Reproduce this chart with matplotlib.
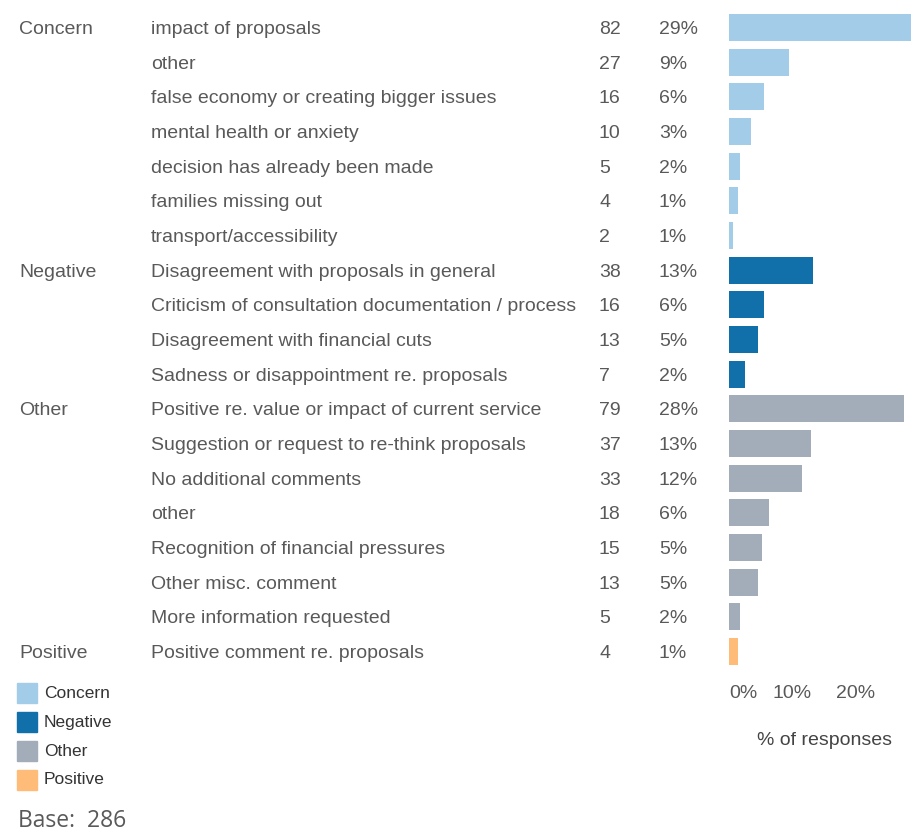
import matplotlib
matplotlib.use("Agg")
from matplotlib import pyplot as plt
from matplotlib.transforms import blended_transform_factory
from matplotlib.patches import Rectangle

# data
groups = ["Concern"] * 7 + ["Negative"] * 4 + ["Other"] * 7 + ["Positive"]
labels = [
    "impact of proposals", "other", "false economy or creating bigger issues",
    "mental health or anxiety", "decision has already been made",
    "families missing out", "transport/accessibility",
    "Disagreement with proposals in general",
    "Criticism of consultation documentation / process",
    "Disagreement with financial cuts", "Sadness or disappointment re. proposals",
    "Positive re. value or impact of current service",
    "Suggestion or request to re-think proposals", "No additional comments",
    "other", "Recognition of financial pressures", "Other misc. comment",
    "More information requested", "Positive comment re. proposals",
]
counts = [82, 27, 16, 10, 5, 4, 2, 38, 16, 13, 7, 79, 37, 33, 18, 15, 13, 5, 4]
pct_labels = ["29%", "9%", "6%", "3%", "2%", "1%", "1%", "13%", "6%", "5%", "2%",
              "28%", "13%", "12%", "6%", "5%", "5%", "2%", "1%"]
base = 286
group_names = ["Concern", "Negative", "Other", "Positive"]
group_colors = {"Concern": "#A3CCE9", "Negative": "#1170AA",
                "Other": "#A3ACB9", "Positive": "#FFBC79"}

W, H = 917, 835
txt = "#595959"
fs = 14
plt.rcParams["font.family"] = ["Liberation Sans", "DejaVu Sans"]

fig = plt.figure(figsize=(W / 100, H / 100), dpi=100)

# bar axes, placed in pixels
row_h = (651 - 27) / 18
top = 27.5 - row_h / 2
bottom = 651.5 + row_h / 2
x0, x1 = 729, 913
ax = fig.add_axes([x0 / W, 1 - bottom / H, (x1 - x0) / W, (bottom - top) / H])

n = len(labels)
ys = list(range(n))
vals = [c / base * 100 for c in counts]
ax.barh(ys, vals, height=0.78, color=[group_colors[g] for g in groups])
ax.set_ylim(n - 0.5, -0.5)
ax.set_xlim(0, 29)
for s in ax.spines.values():
    s.set_visible(False)
ax.set_yticks([])
ax.set_xticks([0, 10, 20])
ax.set_xticklabels(["0%", "10%", "20%"], fontsize=fs, color=txt)
ax.get_xticklabels()[0].set_horizontalalignment("left")
ax.get_xticklabels()[0].set_x(0.4)
ax.tick_params(axis="x", length=0, pad=12)
ax.set_xlabel("% of responses", fontsize=fs, color="#444444", labelpad=21)
ax.xaxis.label.set_x(0.52)

# table texts
tr = blended_transform_factory(fig.transFigure, ax.transData)
prev = None
for i in range(n):
    if groups[i] != prev:
        fig.text(19 / W, i, groups[i], transform=tr, fontsize=fs, color=txt,
                 va="center_baseline")
        prev = groups[i]
    fig.text(151 / W, i, labels[i], transform=tr, fontsize=fs, color=txt, va="center_baseline")
    fig.text(599 / W, i, str(counts[i]), transform=tr, fontsize=fs, color=txt, va="center_baseline")
    fig.text(659 / W, i, pct_labels[i], transform=tr, fontsize=fs, color=txt, va="center_baseline")

# legend
for k, g in enumerate(group_names):
    yc = 693 + k * 29
    fig.patches.append(Rectangle((17 / W, 1 - (yc + 10) / H), 20 / W, 20 / H,
                                 transform=fig.transFigure, color=group_colors[g]))
    fig.text(44 / W, 1 - yc / H, g, fontsize=12.5, color="#333333", va="center")

fig.text(18 / W, 1 - 821 / H, "Base:  " + str(base), fontsize=16.5, color="#595959",
         va="center", family=["Open Sans", "DejaVu Sans"])

fig.savefig("out.png", dpi=100)
